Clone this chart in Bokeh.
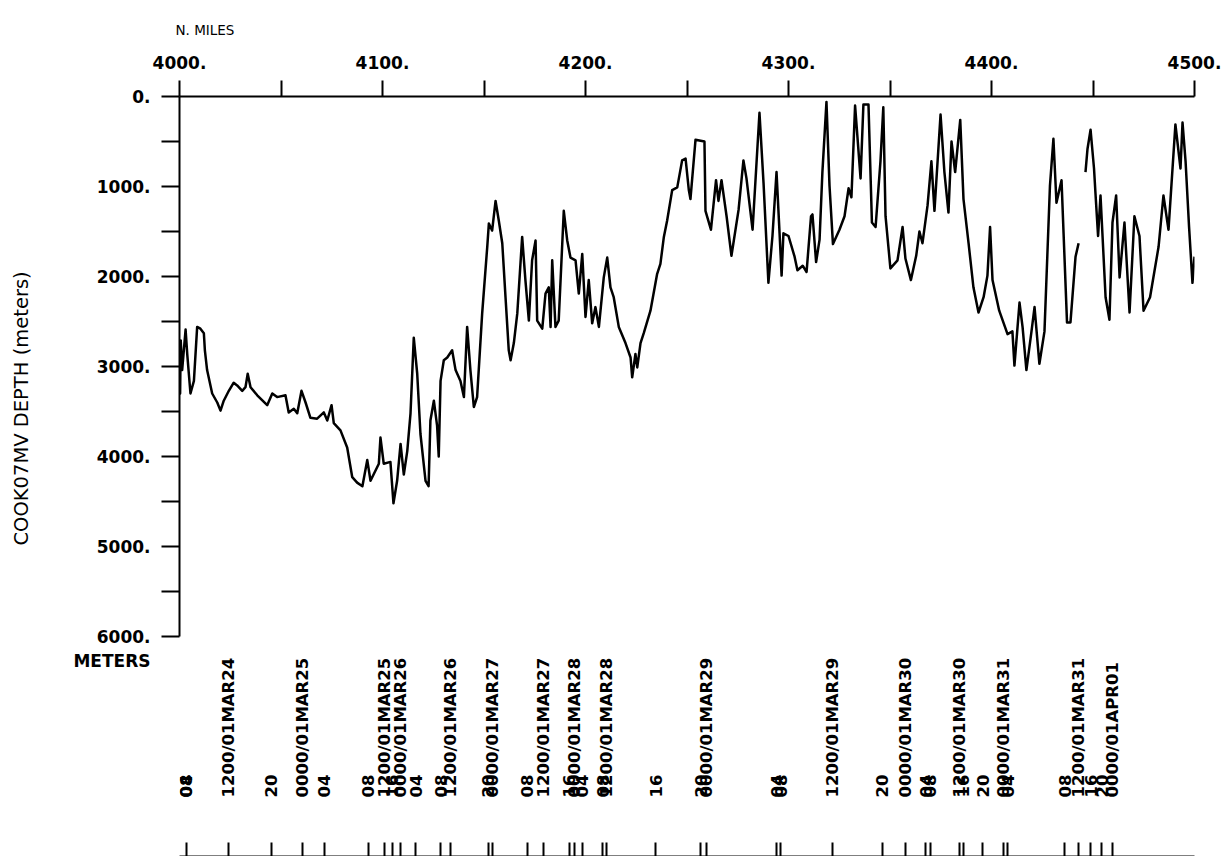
from math import pi
import numpy as np
from bokeh.plotting import figure
from bokeh.models import (Range1d, LinearAxis, FixedTicker, LabelSet, Title,
                          ColumnDataSource, CustomJSTickFormatter)
from bokeh.core.properties import value
from bokeh.embed import file_html
from bokeh.resources import INLINE

FONT = "DejaVu Sans"

# ---- data: distance (n. miles) and depth (meters) ----
miles_a = [
    4000.0, 4000.3, 4000.6, 4001.3, 4003.0, 4003.8, 4005.4, 4007.1, 4008.7, 4010.3,
    4012.0, 4012.5, 4013.6, 4016.1, 4018.6, 4020.2, 4021.8, 4024.3, 4026.7, 4028.4,
    4030.9, 4032.5, 4033.6, 4035.0, 4038.3, 4043.2, 4045.7, 4048.1, 4052.2, 4053.8,
    4056.3, 4058.0, 4060.1, 4062.1, 4064.5, 4067.8, 4071.1, 4072.8, 4074.9, 4076.0,
    4079.3, 4082.6, 4085.1, 4087.5, 4090.1, 4092.5, 4094.1, 4098.2, 4099.0, 4100.6,
    4103.9, 4105.4, 4107.2, 4108.9, 4110.5, 4112.2, 4113.8, 4115.4, 4117.1, 4118.7,
    4121.2, 4122.7, 4123.6, 4125.3, 4126.9, 4127.7, 4128.6, 4130.2, 4131.9, 4134.3,
    4136.0, 4138.4, 4140.1, 4141.7, 4143.3, 4145.0, 4146.6, 4149.1, 4151.6, 4152.4,
    4154.0, 4155.7, 4157.3, 4159.0, 4160.6, 4162.2, 4163.1, 4164.7, 4166.4, 4168.8,
    4170.4, 4172.1, 4173.7, 4175.4, 4176.2, 4178.7, 4180.3, 4181.9, 4182.8, 4183.6,
    4185.2, 4186.8, 4189.3, 4191.0, 4192.6, 4195.1, 4196.7, 4198.4, 4200.0, 4201.6,
    4203.3, 4204.9, 4206.6, 4209.0, 4210.7, 4212.3, 4213.9, 4216.4, 4219.7, 4222.2,
    4223.0, 4224.6, 4225.5, 4227.1, 4228.7, 4232.0, 4235.3, 4236.9, 4238.6, 4240.2,
    4242.7, 4245.2, 4247.6, 4249.3, 4250.9, 4251.7, 4254.2, 4258.6, 4259.1, 4261.8,
    4264.3, 4265.5, 4267.0, 4269.5, 4271.9, 4275.4, 4277.8, 4279.3, 4282.3, 4285.7,
    4287.7, 4290.1, 4292.1, 4294.1, 4295.6, 4296.6, 4297.5, 4300.0, 4303.0, 4304.4,
    4307.0, 4308.9, 4311.1, 4311.8, 4313.6, 4315.3, 4316.7, 4318.7, 4320.2, 4321.9,
    4325.1, 4327.6, 4329.6, 4331.0, 4332.8, 4335.5, 4336.9, 4339.4, 4341.1, 4342.9,
    4345.3, 4346.7, 4347.8, 4350.2, 4353.7, 4356.2, 4357.6, 4360.3, 4362.9, 4364.5,
    4366.0, 4368.5, 4370.4, 4371.9, 4374.9, 4376.8, 4378.8, 4380.3, 4382.1, 4384.6,
    4386.2, 4388.7, 4391.1, 4393.6, 4396.1, 4398.0, 4399.3, 4400.5, 4403.8, 4407.9,
    4410.3, 4411.3, 4413.8, 4415.3, 4417.2, 4419.7, 4421.2, 4423.6, 4426.1, 4428.8,
    4430.5, 4432.0, 4434.5, 4435.5, 4437.2, 4438.9, 4441.4, 4442.9,
]
depth_a = [
    2700, 3300, 2710, 3040, 2590, 2860, 3300, 3160, 2560, 2580,
    2630, 2820, 3040, 3300, 3400, 3490, 3380, 3270, 3180, 3210,
    3270, 3230, 3080, 3230, 3320, 3430, 3300, 3340, 3320, 3510,
    3470, 3520, 3270, 3400, 3570, 3580, 3510, 3600, 3430, 3630,
    3710, 3900, 4230, 4290, 4330, 4040, 4270, 4080, 3790, 4080,
    4060, 4520, 4270, 3860, 4200, 3940, 3520, 2680, 3080, 3750,
    4270, 4330, 3600, 3380, 3660, 4000, 3160, 2930, 2900, 2820,
    3040, 3160, 3340, 2560, 3040, 3450, 3340, 2410, 1670, 1410,
    1490, 1160, 1380, 1630, 2230, 2820, 2930, 2740, 2410, 1560,
    2040, 2490, 1820, 1600, 2490, 2580, 2190, 2120, 2560, 1820,
    2560, 2490, 1270, 1600, 1790, 1820, 2190, 1750, 2450, 2040,
    2520, 2340, 2560, 2010, 1790, 2120, 2230, 2560, 2740, 2900,
    3120, 2860, 3010, 2740, 2630, 2380, 1970, 1860, 1560, 1380,
    1040, 1010, 710, 690, 1040, 1140, 480, 500, 1270, 1480,
    930, 1160, 930, 1330, 1770, 1260, 710, 910, 1480, 180,
    960, 2070, 1550, 840, 1520, 1990, 1520, 1550, 1780, 1930,
    1880, 1950, 1330, 1310, 1840, 1590, 840, 60, 990, 1640,
    1480, 1330, 1020, 1120, 100, 910, 90, 90, 1400, 1450,
    720, 120, 1330, 1910, 1820, 1450, 1800, 2040, 1770, 1500,
    1630, 1210, 720, 1270, 200, 840, 1290, 500, 840, 260,
    1140, 1630, 2120, 2400, 2230, 1990, 1450, 2040, 2380, 2640,
    2610, 2990, 2290, 2560, 3040, 2610, 2340, 2970, 2610, 990,
    470, 1180, 930, 1520, 2510, 2510, 1780, 1630,
]
miles_b = [
    4446.3, 4447.3, 4448.8, 4450.5, 4451.2, 4452.5, 4453.7, 4456.2, 4458.1, 4459.6,
    4461.4, 4463.1, 4465.5, 4468.0, 4470.4, 4472.9, 4474.9, 4478.1, 4482.3, 4484.7,
    4487.2, 4490.6, 4493.1, 4494.1, 4495.6, 4497.3, 4499.0, 4500.0,
]
depth_b = [
    840, 580, 370, 800, 1070, 1550, 1100, 2230, 2480, 1400,
    1100, 2010, 1400, 2400, 1330, 1550, 2380, 2230, 1670, 1100,
    1480, 310, 800, 290, 720, 1440, 2070, 1780,
]

# ---- axes ticks / labels ----
x_major = [4000, 4100, 4200, 4300, 4400, 4500]
x_minor = [4050, 4150, 4250, 4350, 4450]
x_labels = ["4000.", "4100.", "4200.", "4300.", "4400.", "4500."]
y_major = [0, 1000, 2000, 3000, 4000, 5000, 6000]
y_minor = [500, 1500, 2500, 3500, 4500, 5500]
y_labels = ["0.", "1000.", "2000.", "3000.", "4000.", "5000.", "\n6000.\nMETERS"]
x_title = "N. MILES"
y_title = "COOK07MV DEPTH (meters)"

# ---- time annotation (position in n. miles, label) ----
time_miles = [4003.3, 4003.3, 4024.1, 4045.3, 4060.6, 4071.4, 4093.1, 4101.0, 4104.9, 4108.9,
              4116.3, 4128.6, 4133.5, 4152.2, 4154.2, 4171.4, 4179.3, 4192.1, 4194.6, 4198.5,
              4208.4, 4210.3, 4234.5, 4256.7, 4259.6, 4294.1, 4296.1, 4321.7, 4346.3, 4357.6,
              4367.5, 4369.9, 4384.2, 4386.2, 4395.6, 4405.9, 4407.9, 4436.0, 4442.9, 4448.8,
              4454.2, 4459.6]
time_text = ["04", "08", "1200/01MAR24", "20", "0000/01MAR25", "04", "08", "1200/01MAR25", "16", "0000/01MAR26",
             "04", "08", "1200/01MAR26", "20", "0000/01MAR27", "08", "1200/01MAR27", "16", "0000/01MAR28", "04",
             "08", "1200/01MAR28", "16", "20", "0000/01MAR29", "04", "08", "1200/01MAR29", "20", "0000/01MAR30",
             "04", "08", "1200/01MAR30", "16", "20", "0000/01MAR31", "04", "08", "1200/01MAR31", "16",
             "20", "0000/01APR01"]

p = figure(frame_width=1015, frame_height=760,
           x_range=Range1d(4000, 4500), y_range=Range1d(8444.4, 0),
           x_axis_location="above", y_axis_location="left",
           min_border_left=179, min_border_top=96, min_border_right=28, min_border_bottom=0,
           output_backend="svg", toolbar_location=None, outline_line_color=None,
           background_fill_color="white", border_fill_color="white")
p.grid.visible = False


def style_axis(ax, tick_len, standoff, size):
    ax.major_tick_in = 0
    ax.major_tick_out = tick_len
    ax.minor_tick_in = 0
    ax.minor_tick_out = tick_len
    ax.axis_line_width = 2
    ax.major_tick_line_width = 2
    ax.minor_tick_line_width = 2
    ax.axis_line_color = "black"
    ax.major_tick_line_color = "black"
    ax.minor_tick_line_color = "black"
    ax.major_label_standoff = standoff
    ax.major_label_text_font = FONT
    ax.major_label_text_font_size = size
    ax.major_label_text_font_style = "bold"
    ax.major_label_text_color = "black"


# top axis (n. miles)
xa = p.xaxis[0]
xa.ticker = FixedTicker(ticks=x_major, minor_ticks=x_minor)
xa.bounds = (4000, 4500)
xa.major_label_overrides = dict(zip(x_major, x_labels))
style_axis(xa, 16, 12, "17px")

# left axis (depth)
ya = p.yaxis[0]
ya.ticker = FixedTicker(ticks=y_major, minor_ticks=y_minor)
ya.bounds = (0, 6000)
ya.major_label_overrides = dict(zip(y_major, y_labels))
style_axis(ya, 18, 11, "17px")

# "N. MILES" above the distance axis (plot title, left aligned)
p.title.text = x_title
p.title.align = "left"
p.title.offset = -4
p.title.standoff = 30
p.title.text_font = FONT
p.title.text_font_size = "13.5px"
p.title.text_font_style = "normal"
p.title.text_color = "black"

# depth axis title (an empty second line keeps it away from the tick labels)
p.add_layout(Title(text=y_title + "\n", align="left", offset=311, standoff=11,
                   text_font=FONT, text_font_size="19.5px", text_font_style="normal",
                   text_line_height=1.4, text_color="black"), "left")

# bottom time-tick strip
strip = LinearAxis(ticker=FixedTicker(ticks=time_miles), bounds=(4000, 4500),
                   formatter=CustomJSTickFormatter(code="return ''"),
                   major_tick_in=14, major_tick_out=0, minor_tick_in=0, minor_tick_out=0,
                   major_label_standoff=0, axis_line_width=2, major_tick_line_width=2,
                   axis_line_color="black", major_tick_line_color="black")
p.add_layout(strip, "below")

# depth profile
p.line(miles_a, depth_a, line_color="black", line_width=2.5, line_join="round")
p.line(miles_b, depth_b, line_color="black", line_width=2.5, line_join="round")

# time labels
tsrc = ColumnDataSource(dict(x=time_miles, text=time_text))
p.add_layout(LabelSet(x="x", y=7789, text="text", source=tsrc, angle=pi / 2,
                      text_align="left", text_baseline="middle",
                      text_font=value(FONT), text_font_size="16.5px",
                      text_font_style="bold", text_color="black"))

open("out.html", "w").write(file_html(p, INLINE))
